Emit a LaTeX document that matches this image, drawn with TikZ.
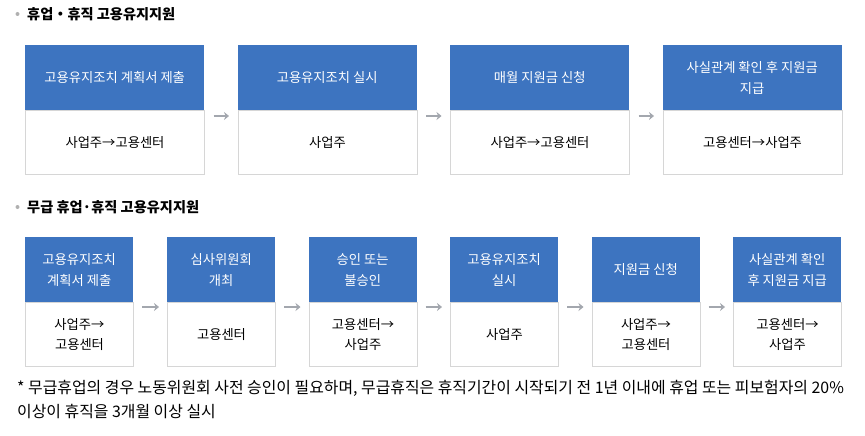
\documentclass[tikz,border=0pt]{standalone}
\usepackage{fontspec}
\setmainfont{Noto Sans CJK KR}
\usetikzlibrary{arrows.meta}
\definecolor{hblue}{HTML}{3D74C0}
\definecolor{bgray}{HTML}{D6D6D6}
\definecolor{agray}{HTML}{A3A7AE}
\definecolor{dotgray}{HTML}{B0B0B0}
\tikzset{
  head/.style={anchor=north west, fill=hblue, text=white, inner sep=0pt,
    align=center, font=\fontsize{13.3}{21}\selectfont},
  body/.style={anchor=north west, draw=bgray, line width=1pt, fill=white, inner sep=0pt,
    align=center, font=\fontsize{13.3}{20}\selectfont},
  wide/.style={minimum width=179pt, minimum height=65pt},
  wideb/.style={minimum width=179pt, minimum height=64pt},
  narrow/.style={minimum width=108pt, minimum height=65pt},
  narrowb/.style={minimum width=108pt, minimum height=64pt},
  arr/.style={draw=agray, line width=1.5pt, -{Stealth[length=5pt,width=8pt]}},
  title/.style={anchor=west, inner sep=0pt, font=\fontsize{14.2}{17}\selectfont\bfseries},
}
\begin{document}
\begin{tikzpicture}[x=1pt,y=-1pt]
\useasboundingbox (0,0) rectangle (865,436);
% Section 1
\fill[dotgray] (17.5,14) circle (2pt);
\node[title] (t1) at (27,14) {휴업・휴직 고용유지지원};
\foreach \i/\x/\h/\b in {1/25/{고용유지조치 계획서 제출}/{사업주→고용센터},
                         2/237.5/{고용유지조치 실시}/{사업주},
                         3/450/{매월 지원금 신청}/{사업주→고용센터},
                         4/662.5/{사실관계 확인 후 지원금\\지급}/{고용센터→사업주}}{
  \node[head,wide] (h\i) at (\x,45) {\h};
  \node[body,wideb] (b\i) at (\x,110) {\b};
}
\foreach \i/\j in {1/2,2/3,3/4}{
  \draw[arr, shorten <=8.5pt, shorten >=8.5pt] ([yshift=-6pt]b\i.north east) -- ([yshift=-6pt]b\j.north west);
}
% Section 2
\fill[dotgray] (17.5,207) circle (2pt);
\node[title] (t2) at (27,207) {무급 휴업·휴직 고용유지지원};
\foreach \i/\x/\h/\b in {1/25/{고용유지조치\\계획서 제출}/{사업주→\\고용센터},
                         2/167/{심사위원회\\개최}/{고용센터},
                         3/308.5/{승인 또는\\불승인}/{고용센터→\\사업주},
                         4/450/{고용유지조치\\실시}/{사업주},
                         5/591.5/{지원금 신청}/{사업주→\\고용센터},
                         6/733/{사실관계 확인\\후 지원금 지급}/{고용센터→\\사업주}}{
  \node[head,narrow] (p\i) at (\x,237) {\h};
  \node[body,narrowb] (q\i) at (\x,302) {\b};
}
\foreach \i/\j in {1/2,2/3,3/4,4/5,5/6}{
  \draw[arr, shorten <=8pt, shorten >=8pt] ([yshift=-5pt]q\i.north east) -- ([yshift=-5pt]q\j.north west);
}
% Note
\node[anchor=north west, inner sep=0pt, align=left, font=\fontsize{15.9}{24}\selectfont] (note) at (17,380)
  {* 무급휴업의 경우 노동위원회 사전 승인이 필요하며, 무급휴직은 휴직기간이 시작되기 전 1년 이내에 휴업 또는 피보험자의 20\%\\이상이 휴직을 3개월 이상 실시};
\end{tikzpicture}
\end{document}
